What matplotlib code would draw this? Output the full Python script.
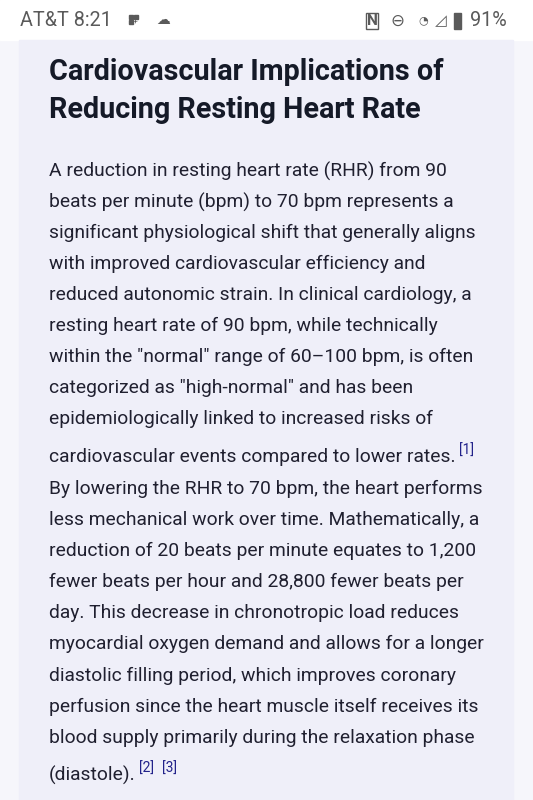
import matplotlib
matplotlib.use("Agg")
import matplotlib.pyplot as plt
from matplotlib.patches import Rectangle

plt.rcParams['font.family'] = ['Roboto', 'DejaVu Sans']

# status bar
carrier = "AT&T 8:21"
battery = "91%"

title_lines = ["Cardiovascular Implications of", "Reducing Resting Heart Rate"]

body_lines = [
    "A reduction in resting heart rate (RHR) from 90",
    "beats per minute (bpm) to 70 bpm represents a",
    "significant physiological shift that generally aligns",
    "with improved cardiovascular efficiency and",
    "reduced autonomic strain. In clinical cardiology, a",
    "resting heart rate of 90 bpm, while technically",
    "within the \"normal\" range of 60\u2013100 bpm, is often",
    "categorized as \"high-normal\" and has been",
    "epidemiologically linked to increased risks of",
    "cardiovascular events compared to lower rates.",
    "By lowering the RHR to 70 bpm, the heart performs",
    "less mechanical work over time. Mathematically, a",
    "reduction of 20 beats per minute equates to 1,200",
    "fewer beats per hour and 28,800 fewer beats per",
    "day. This decrease in chronotropic load reduces",
    "myocardial oxygen demand and allows for a longer",
    "diastolic filling period, which improves coronary",
    "perfusion since the heart muscle itself receives its",
    "blood supply primarily during the relaxation phase",
    "(diastole).",
]
body_y = [171, 202, 233, 264, 295, 326, 357, 388, 419, 457,
          489, 520, 551, 582, 613, 644, 676, 707, 738, 775]
# citations: line index -> labels
citations = {9: ["[1]"], 19: ["[2]", "[3]"]}

fig = plt.figure(figsize=(5.33, 8), dpi=100)
ax = fig.add_axes([0, 0, 1, 1])
ax.set_xlim(0, 533)
ax.set_ylim(800, 0)
ax.axis('off')

ax.add_patch(Rectangle((0, 0), 533, 800, color='#f6f6fb', zorder=0))
ax.add_patch(Rectangle((0, 0), 533, 40, color='#ffffff', zorder=1))
ax.add_patch(Rectangle((19, 40), 494, 760, color='#efeff9', zorder=1))

# status bar
grey = '#5a5a5a'
ax.text(20, 21, carrier, fontsize=14.2, color=grey, va='center', ha='left')
ax.text(507, 21, battery, fontsize=14.2, color=grey, va='center', ha='right')
# small icons
for dx, dy in [(0, 0), (5, 0), (0, 5)]:
    ax.add_patch(Rectangle((129 + dx, 15 + dy), 4, 4, color=grey, zorder=2))
ax.text(135, 22, "+", fontsize=6, color=grey, va='center', ha='center')
ax.text(163, 20, "\u2601", fontsize=10, color=grey, va='center', ha='center',
        family=['DejaVu Sans'])
ax.text(372, 21, "N", fontsize=11, color=grey, va='center', ha='center', weight='bold',
        bbox=dict(boxstyle='square,pad=0.05', fc='none', ec=grey, lw=1))
ax.text(397, 21, "\u2296", fontsize=12, color=grey, va='center', ha='center',
        family=['DejaVu Sans'])
ax.text(423, 20, "\u25d4", fontsize=8, color=grey, va='center', ha='center',
        family=['DejaVu Sans'])
ax.text(441, 21, "\u25ff", fontsize=11, color=grey, va='center', ha='center',
        family=['DejaVu Sans'])
ax.add_patch(Rectangle((454, 13), 7, 16, color=grey, zorder=2))

# title
for line, y in zip(title_lines, [72, 110]):
    ax.text(49, y, line, fontsize=20.7, weight='bold', color='#151a28', va='center', ha='left')

# body
renderer = fig.canvas.get_renderer()
for i, (line, y) in enumerate(zip(body_lines, body_y)):
    t = ax.text(49, y, line, fontsize=13.9, color='#202030', va='center', ha='left')
    if i in citations:
        x_end = t.get_window_extent(renderer=renderer).x1
        for c in citations[i]:
            xd = ax.transData.inverted().transform((x_end + 3, 0))[0]
            ct = ax.text(xd, y - 6, c, fontsize=10, color='#22228a', va='center', ha='left')
            x_end = ct.get_window_extent(renderer=renderer).x1 + 5

fig.savefig("out.png", dpi=100)
